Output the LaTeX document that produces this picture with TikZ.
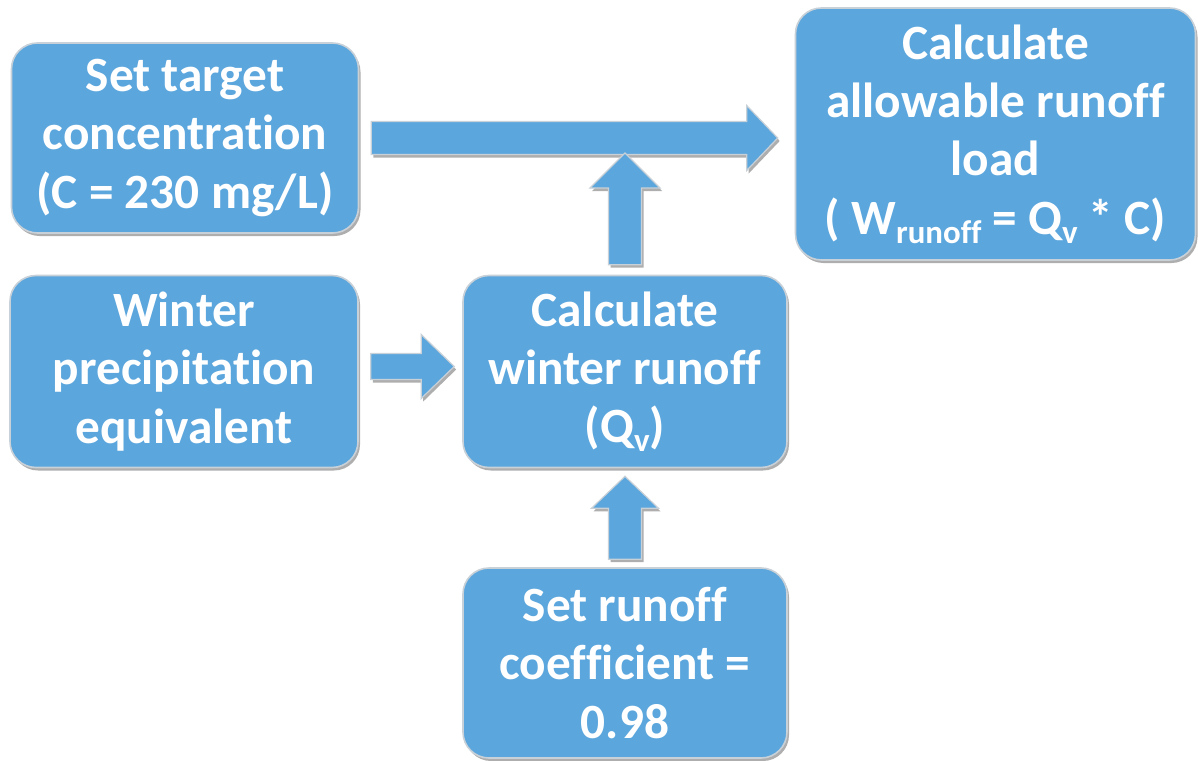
\documentclass[tikz,border=0pt]{standalone}
\usepackage{fontspec}
\setmainfont[RawFeature=-liga]{Carlito}
\usetikzlibrary{calc,shadows}
\definecolor{boxblue}{RGB}{91,166,221}
\definecolor{edgegray}{RGB}{200,208,216}
\newcommand{\subtxt}[1]{\raisebox{-9bp}{\fontsize{33}{33}\selectfont #1}}
\tikzset{
  flowbox/.style={rounded corners=26bp, fill=boxblue, draw=edgegray, line width=1.6bp,
    drop shadow={shadow xshift=2bp, shadow yshift=-3bp, opacity=0.45, fill=black!70},
    text=white, align=center, inner sep=0pt,
    font=\bfseries\fontsize{49.5}{58.5}\selectfont},
  barrow/.style n args={3}{fill=boxblue, draw=edgegray, line width=1.2bp,
    drop shadow={shadow xshift=2bp, shadow yshift=-3bp, opacity=0.45, fill=black!70},
    to path={
      ($(\tikztostart)!#1!90:(\tikztotarget)$)
      -- ($(\tikztotarget)!#3!(\tikztostart)!#1!-90:(\tikztostart)$)
      -- ($(\tikztotarget)!#3!(\tikztostart)!#2!-90:(\tikztostart)$)
      -- (\tikztotarget)
      -- ($(\tikztotarget)!#3!(\tikztostart)!#2!90:(\tikztostart)$)
      -- ($(\tikztotarget)!#3!(\tikztostart)!#1!90:(\tikztostart)$)
      -- ($(\tikztostart)!#1!-90:(\tikztotarget)$)
      -- cycle}}
}
\begin{document}
\begin{tikzpicture}[x=1bp,y=-1bp]
\useasboundingbox[fill=white] (0,0) rectangle (1198,761);

\node[flowbox, minimum width=347bp, minimum height=190bp] (target) at (185,138)
  {Set target\\concentration\\(C = 230 mg/L)};
\node[flowbox, minimum width=400bp, minimum height=252bp] (load) at (995.5,134)
  {Calculate\\allowable runoff\\load\\( W\subtxt{runoff} = Q\subtxt{v} * C)};
\node[flowbox, minimum width=348bp, minimum height=192bp] (precip) at (184,371.5)
  {Winter\\precipitation\\equivalent};
\node[flowbox, minimum width=324bp, minimum height=192bp] (runoff) at (625,371.5)
  {Calculate\\winter runoff\\(Q\subtxt{v})};
\node[flowbox, minimum width=324bp, minimum height=190bp] (coef) at (625,663)
  {Set runoff\\coefficient =\\0.98};

\coordinate (a1s) at ([xshift=12bp]target.east);
\coordinate (a1t) at ([xshift=-17bp]load.west |- target.east);
\coordinate (a2s) at ([yshift=10bp]runoff.north);
\coordinate (a2t) at ([yshift=-15bp]runoff.north |- a1t);
\coordinate (a3s) at ([xshift=12bp,yshift=5bp]precip.east);
\coordinate (a3t) at ([xshift=-8bp]runoff.west |- a3s);
\coordinate (a4s) at ([yshift=8bp]coef.north);
\coordinate (a4t) at ([yshift=-8bp]runoff.south);

\path[barrow={16.5bp}{32.5bp}{31bp}] (a1s) to (a1t);
\path[barrow={16.5bp}{35bp}{35bp}] (a2s) to (a2t);
\path[barrow={13bp}{32bp}{33bp}] (a3s) to (a3t);
\path[barrow={16.5bp}{33.5bp}{32bp}] (a4s) to (a4t);
\end{tikzpicture}
\end{document}
